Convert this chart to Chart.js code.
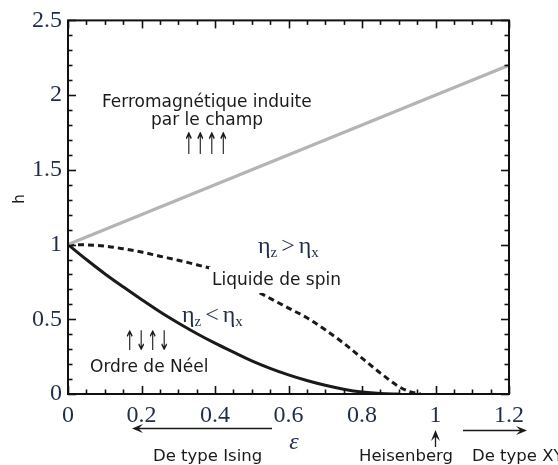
<!DOCTYPE html>
<html><head><meta charset="utf-8">
<script src="https://cdn.jsdelivr.net/npm/chart.js@4/dist/chart.umd.min.js"></script>
<style>html,body{margin:0;padding:0;background:#fff}canvas{display:block}</style>
</head><body>
<canvas id="c" width="558" height="465"></canvas>
<script>
// ---- data ----
const xTickValues = [0, 0.2, 0.4, 0.6, 0.8, 1, 1.2];
const yTickValues = [0, 0.5, 1, 1.5, 2, 2.5];

const epsFerro = [0, 1.2];
const hFerro   = [1, 2.2];

const epsNeel = [0, 0.05, 0.1, 0.15, 0.2, 0.25, 0.3, 0.35, 0.4, 0.45, 0.5, 0.55, 0.6, 0.65, 0.7, 0.75, 0.8, 0.85, 0.9];
const hNeel   = [1, 0.90, 0.805, 0.717, 0.632, 0.55, 0.475, 0.405, 0.34, 0.28, 0.222, 0.172, 0.128, 0.09, 0.058, 0.032, 0.013, 0.003, 0];

const epsSpin = [0, 0.05, 0.1, 0.15, 0.2, 0.25, 0.3, 0.35, 0.4, 0.45, 0.5, 0.55, 0.6, 0.65, 0.7, 0.75, 0.8, 0.85, 0.9, 0.93, 0.96];
const hSpin   = [1, 0.998, 0.99, 0.972, 0.95, 0.922, 0.895, 0.865, 0.83, 0.772, 0.706, 0.64, 0.575, 0.51, 0.43, 0.34, 0.24, 0.14, 0.05, 0.015, 0];

const pts = (xs, ys) => xs.map((v, i) => ({x: v, y: ys[i]}));

const NAVY = '#1f2d48';
const TXT = '#1a1a1a';
const SANS = '17px "DejaVu Sans"';
const SANS_B = '16.5px "DejaVu Sans"';

function line(ctx, x1, y1, x2, y2) { ctx.beginPath(); ctx.moveTo(x1, y1); ctx.lineTo(x2, y2); ctx.stroke(); }

const frameTicks = {
  id: 'frameTicks',
  afterDatasetsDraw(chart) {
    const {ctx, chartArea: a, scales: {x, y}} = chart;
    ctx.save();
    ctx.strokeStyle = '#111';
    ctx.lineWidth = 2;
    ctx.strokeRect(a.left, a.top, a.right - a.left, a.bottom - a.top);
    ctx.lineWidth = 1.6;
    for (let i = 0; i <= 24; i++) {
      const px = Math.round(x.getPixelForValue(i * 0.05)) + 0.5;
      const L = (i % 4 === 0) ? 8 : 4.5;
      line(ctx, px, a.bottom, px, a.bottom - L);
      line(ctx, px, a.top, px, a.top + L);
    }
    for (let i = 0; i <= 25; i++) {
      const py = Math.round(y.getPixelForValue(i * 0.1)) + 0.5;
      const L = (i % 5 === 0) ? 8 : 4.5;
      line(ctx, a.left, py, a.left + L, py);
      line(ctx, a.right, py, a.right - L, py);
    }
    ctx.restore();
  }
};

function eta(ctx, x, base, op) {
  ctx.fillStyle = NAVY;
  let cx = x;
  const big = '24px "Liberation Serif"', small = '15px "Liberation Serif"';
  ctx.font = big; ctx.fillText('η', cx, base); cx += ctx.measureText('η').width;
  ctx.font = small; ctx.fillText('z', cx, base + 4); cx += ctx.measureText('z').width + 4;
  ctx.font = big; ctx.fillText(op, cx, base); cx += ctx.measureText(op).width + 4;
  ctx.fillText('η', cx, base); cx += ctx.measureText('η').width;
  ctx.font = small; ctx.fillText('x', cx, base + 4);
}

function arrows(ctx, txt, x, base, w, size) {
  ctx.save();
  ctx.font = size + 'px "DejaVu Sans"';
  ctx.textAlign = 'left';
  const m = ctx.measureText(txt).width;
  ctx.translate(x, base);
  ctx.scale(w / m, 1);
  ctx.fillStyle = TXT;
  ctx.fillText(txt, 0, 0);
  ctx.restore();
}

function arrowHead(ctx, x, y, dx, dy) {
  const L = 11, W = 4.5;
  const px = -dy, py = dx;
  ctx.beginPath();
  ctx.moveTo(x, y);
  ctx.lineTo(x - dx * L + px * W, y - dy * L + py * W);
  ctx.lineTo(x - dx * L * 0.6, y - dy * L * 0.6);
  ctx.lineTo(x - dx * L - px * W, y - dy * L - py * W);
  ctx.closePath();
  ctx.fill();
}

const annotations = {
  id: 'annotations',
  afterDraw(chart) {
    const ctx = chart.ctx;
    ctx.save();
    ctx.textBaseline = 'alphabetic';
    ctx.textAlign = 'left';
    ctx.fillStyle = TXT;
    ctx.font = SANS;
    ctx.fillText('Ferromagnétique induite', 102, 107);
    ctx.fillText('par le champ', 151, 125);
    arrows(ctx, '↑↑↑↑', 183, 154, 46, 30);

    ctx.font = SANS;
    const lw = ctx.measureText('Liquide de spin').width;
    ctx.fillStyle = '#fff';
    ctx.fillRect(209, 267, lw + 6, 26);
    ctx.fillStyle = TXT;
    ctx.fillText('Liquide de spin', 212, 285);

    eta(ctx, 258, 253, '>');
    eta(ctx, 182, 322, '<');

    arrows(ctx, '↑↓↑↓', 124, 350, 46, 27);
    ctx.font = SANS;
    ctx.fillStyle = TXT;
    ctx.fillText('Ordre de Néel', 90, 372);

    ctx.strokeStyle = TXT; ctx.fillStyle = TXT; ctx.lineWidth = 1.3;
    line(ctx, 272, 428.5, 138, 428.5); arrowHead(ctx, 132, 428.5, -1, 0);
    line(ctx, 463, 430.5, 521, 430.5); arrowHead(ctx, 527, 430.5, 1, 0);
    line(ctx, 435.5, 447, 435.5, 436); arrowHead(ctx, 435.5, 430, 0, -1);

    ctx.font = SANS_B;
    ctx.fillText('De type Ising', 153, 461);
    ctx.textAlign = 'right';
    ctx.fillText('Heisenberg', 453, 461);
    ctx.textAlign = 'left';
    ctx.fillText('De type XY', 472, 461);

    ctx.font = 'italic 24px "Liberation Serif"';
    ctx.fillStyle = NAVY;
    ctx.textAlign = 'center';
    ctx.fillText('ε', 294, 449);

    ctx.save();
    ctx.translate(24, 199);
    ctx.rotate(-Math.PI / 2);
    ctx.font = '15px "DejaVu Sans"';
    ctx.fillStyle = TXT;
    ctx.fillText('h', 0, 0);
    ctx.restore();
    ctx.restore();
  }
};

new Chart(document.getElementById('c'), {
  type: 'scatter',
  data: {
    datasets: [
      {data: pts(epsFerro, hFerro), showLine: true, borderColor: '#b4b4b4', borderWidth: 3.2, pointRadius: 0, tension: 0},
      {data: pts(epsNeel, hNeel), showLine: true, borderColor: '#1a1a1a', borderWidth: 3, pointRadius: 0, cubicInterpolationMode: 'monotone'},
      {data: pts(epsSpin, hSpin), showLine: true, borderColor: '#1a1a1a', borderWidth: 3, borderDash: [6, 4], pointRadius: 0, cubicInterpolationMode: 'monotone'}
    ]
  },
  options: {
    responsive: false,
    devicePixelRatio: 1,
    animation: false,
    layout: {padding: {top: 16, right: 49, left: 0, bottom: 0}},
    plugins: {legend: {display: false}, tooltip: {enabled: false}},
    scales: {
      x: {
        type: 'linear', min: 0, max: 1.2,
        afterBuildTicks: s => { s.ticks = xTickValues.map(v => ({value: v})); },
        afterFit: s => { s.height = 71; },
        grid: {display: false, drawTicks: false},
        border: {display: false},
        ticks: {color: NAVY, font: {family: 'Liberation Serif', size: 24}, padding: 7, maxRotation: 0, autoSkip: false,
                callback: v => String(Math.round(v * 10) / 10)}
      },
      y: {
        type: 'linear', min: 0, max: 2.5,
        afterBuildTicks: s => { s.ticks = yTickValues.map(v => ({value: v})); },
        afterFit: s => { s.width = 68; },
        grid: {display: false, drawTicks: false},
        border: {display: false},
        ticks: {color: NAVY, font: {family: 'Liberation Serif', size: 24}, padding: 6, autoSkip: false,
                callback: v => String(Math.round(v * 10) / 10)}
      }
    }
  },
  plugins: [frameTicks, annotations]
});
</script>
</body></html>
